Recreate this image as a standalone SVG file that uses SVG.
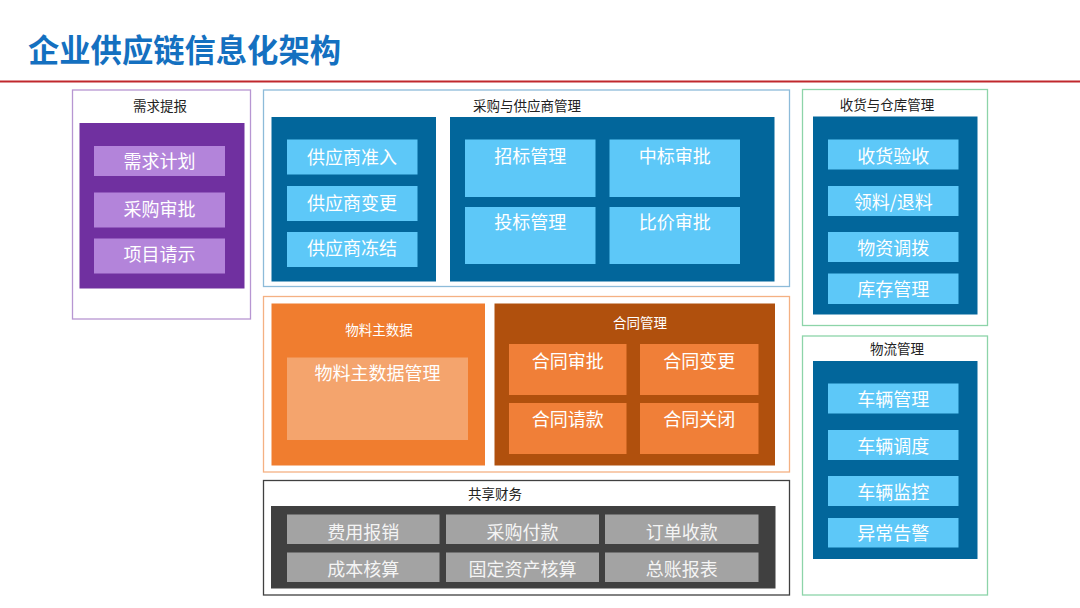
<svg xmlns="http://www.w3.org/2000/svg" width="1080" height="608" viewBox="0 0 1080 608">
<style>
text{font-family:"Noto Sans CJK SC","Liberation Sans",sans-serif;text-anchor:middle}
.title{font-size:31.3px;font-weight:bold;fill:#1470c0;text-anchor:start}
.lbl{font-size:13.5px;fill:#222}
.lblw{font-size:13.5px;fill:#fff}
.it{font-size:18px;fill:#fff}
.itg{font-size:18px;fill:#f4f4f4}
.box{fill:#fff;stroke-width:1.3}
.purple{fill:#7030a0}
.pitem{fill:#b384da}
.dblue{fill:#02669b}
.litem{fill:#5dc8f8}
.orange{fill:#f07d2f}
.lorange{fill:#f4a46d}
.dorange{fill:#b0500d}
.citem{fill:#f07f38}
.dgrey{fill:#404040}
.gitem{fill:#a3a3a3}
</style>
<rect width="1080" height="608" fill="#fff"/>
<g id="title">
<text class="title" x="28" y="61.5">企业供应链信息化架构</text>
<line x1="0" y1="81.5" x2="1080" y2="81.5" stroke="#c0282d" stroke-width="2"/>
</g>
<g id="demand">
<rect class="box" x="72.5" y="90" width="178" height="229" stroke="#b796d2"/>
<text class="lbl" x="160" y="110.5">需求提报</text>
<rect class="purple" x="79.5" y="123" width="165" height="165.5"/>
<g id="demand-plan"><rect class="pitem" x="94" y="146" width="131" height="30"/><text class="it" x="159.5" y="168">需求计划</text></g>
<g id="demand-approve"><rect class="pitem" x="94" y="192.5" width="131" height="35"/><text class="it" x="159.5" y="216">采购审批</text></g>
<g id="demand-request"><rect class="pitem" x="94" y="238.5" width="131" height="35"/><text class="it" x="159.5" y="261">项目请示</text></g>
</g>
<g id="procurement">
<rect class="box" x="263.5" y="90" width="526" height="196.5" stroke="#8dbbd9"/>
<text class="lbl" x="527" y="110.5">采购与供应商管理</text>
<rect class="dblue" x="271.5" y="117" width="164.5" height="164.5"/>
<g id="sup-admit"><rect class="litem" x="287" y="139.5" width="130.5" height="35"/><text class="it" x="352" y="163.5">供应商准入</text></g>
<g id="sup-change"><rect class="litem" x="287" y="186" width="130.5" height="35"/><text class="it" x="352" y="210">供应商变更</text></g>
<g id="sup-freeze"><rect class="litem" x="287" y="232" width="130.5" height="35"/><text class="it" x="352" y="255">供应商冻结</text></g>
<rect class="dblue" x="450" y="117" width="324.5" height="164.5"/>
<g id="bid-manage"><rect class="litem" x="465" y="139.5" width="130.5" height="57.5"/><text class="it" x="530.3" y="162.5">招标管理</text></g>
<g id="bid-win"><rect class="litem" x="609.5" y="139.5" width="130.5" height="57.5"/><text class="it" x="674.7" y="162.5">中标审批</text></g>
<g id="bid-submit"><rect class="litem" x="465" y="207" width="130.5" height="57"/><text class="it" x="530.3" y="228.5">投标管理</text></g>
<g id="price-compare"><rect class="litem" x="609.5" y="207" width="130.5" height="57"/><text class="it" x="674.7" y="228.5">比价审批</text></g>
</g>
<g id="warehouse">
<rect class="box" x="802.5" y="89.5" width="185" height="236" stroke="#8dd4a9"/>
<text class="lbl" x="887" y="110">收货与仓库管理</text>
<rect class="dblue" x="813" y="116.5" width="164.5" height="198"/>
<g id="wh-receive"><rect class="litem" x="828" y="139.5" width="130.5" height="30"/><text class="it" x="893.2" y="163">收货验收</text></g>
<g id="wh-pick"><rect class="litem" x="828" y="186" width="130.5" height="30"/><text class="it" x="893.2" y="209">领料/退料</text></g>
<g id="wh-transfer"><rect class="litem" x="828" y="232" width="130.5" height="30"/><text class="it" x="893.2" y="255">物资调拨</text></g>
<g id="wh-stock"><rect class="litem" x="828" y="273.5" width="130.5" height="30.5"/><text class="it" x="893.2" y="296">库存管理</text></g>
</g>
<g id="logistics">
<rect class="box" x="802.5" y="336" width="185" height="259" stroke="#8dd4a9"/>
<text class="lbl" x="897" y="354">物流管理</text>
<rect class="dblue" x="813" y="361" width="164.5" height="198"/>
<g id="lg-vehicle"><rect class="litem" x="828" y="383.5" width="130.5" height="30"/><text class="it" x="893.2" y="406">车辆管理</text></g>
<g id="lg-dispatch"><rect class="litem" x="828" y="430" width="130.5" height="30"/><text class="it" x="893.2" y="453">车辆调度</text></g>
<g id="lg-monitor"><rect class="litem" x="828" y="476" width="130.5" height="30"/><text class="it" x="893.2" y="499">车辆监控</text></g>
<g id="lg-alarm"><rect class="litem" x="828" y="518" width="130.5" height="29.5"/><text class="it" x="893.2" y="540">异常告警</text></g>
</g>
<g id="material-contract">
<rect class="box" x="263.5" y="296.5" width="526" height="175.5" stroke="#f4b183"/>
<g id="material">
<rect class="orange" x="271.5" y="303.5" width="213.5" height="162"/>
<text class="lblw" x="379" y="335">物料主数据</text>
<rect class="lorange" x="287" y="357.5" width="181" height="82.5"/>
<text class="it" x="377.5" y="379.5">物料主数据管理</text>
</g>
<g id="contract">
<rect class="dorange" x="494.5" y="303.5" width="280.5" height="162"/>
<text class="lblw" x="640" y="328">合同管理</text>
<g id="ct-approve"><rect class="citem" x="509" y="344" width="117.5" height="51"/><text class="it" x="567.8" y="367.5">合同审批</text></g>
<g id="ct-change"><rect class="citem" x="640" y="344" width="118.5" height="51"/><text class="it" x="699.2" y="367.5">合同变更</text></g>
<g id="ct-pay"><rect class="citem" x="509" y="403" width="117.5" height="51"/><text class="it" x="567.8" y="426">合同请款</text></g>
<g id="ct-close"><rect class="citem" x="640" y="403" width="118.5" height="51"/><text class="it" x="699.2" y="426">合同关闭</text></g>
</g>
</g>
<g id="finance">
<rect class="box" x="263.5" y="480.5" width="526" height="114.5" stroke="#404040"/>
<text class="lbl" x="495" y="499">共享财务</text>
<rect class="dgrey" x="271" y="506" width="504.5" height="82.5"/>
<g id="fin-expense"><rect class="gitem" x="287" y="514.5" width="152.5" height="29.5"/><text class="itg" x="363.2" y="538.5">费用报销</text></g>
<g id="fin-paying"><rect class="gitem" x="446" y="514.5" width="153" height="29.5"/><text class="itg" x="522.5" y="538.5">采购付款</text></g>
<g id="fin-collect"><rect class="gitem" x="605" y="514.5" width="153.5" height="29.5"/><text class="itg" x="681.7" y="538.5">订单收款</text></g>
<g id="fin-cost"><rect class="gitem" x="287" y="552.5" width="152.5" height="29.5"/><text class="itg" x="363.2" y="576">成本核算</text></g>
<g id="fin-asset"><rect class="gitem" x="446" y="552.5" width="153" height="29.5"/><text class="itg" x="522.5" y="576">固定资产核算</text></g>
<g id="fin-ledger"><rect class="gitem" x="605" y="552.5" width="153.5" height="29.5"/><text class="itg" x="681.7" y="576">总账报表</text></g>
</g>
<g id="connectors"/>
</svg>
